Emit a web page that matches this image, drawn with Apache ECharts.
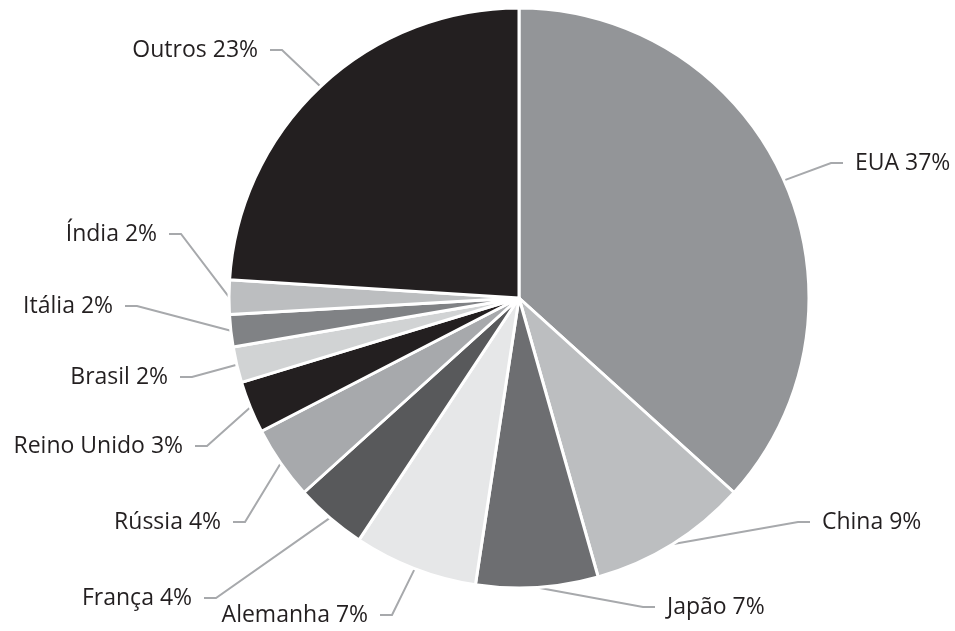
<!DOCTYPE html>
<html>
<head>
<meta charset="utf-8">
<script src="https://cdn.jsdelivr.net/npm/echarts@6/dist/echarts.min.js"></script>
<style>
  html, body { margin: 0; padding: 0; background: #fff; }
  #chart { width: 955px; height: 631px; }
</style>
</head>
<body>
<div id="chart"></div>
<script>
const countries = ['EUA', 'China', 'Japão', 'Alemanha', 'França', 'Rússia', 'Reino Unido', 'Brasil', 'Itália', 'Índia', 'Outros']
// printed percentages
const labels = [37, 9, 7, 7, 4, 4, 3, 2, 2, 2, 23]
// slice sizes
const shares = [36.7, 8.9, 6.8, 6.9, 4.0, 4.1, 2.9, 2.0, 1.8, 1.9, 24.0]
const colors = ['#939598', '#bcbec0', '#6d6e71', '#e6e7e8', '#58595b', '#a7a9ac', '#231f20', '#d1d3d4', '#808285', '#bcbec0', '#231f20']

// where each label sits (x, y, align)
const labelPos = [
  [843, 163, 'left'],
  [810, 522, 'left'],
  [655, 607, 'left'],
  [380, 615, 'right'],
  [204, 598, 'right'],
  [233, 522, 'right'],
  [195, 446, 'right'],
  [180, 377, 'right'],
  [125, 306, 'right'],
  [169, 234, 'right'],
  [270, 50, 'right']
]

const chart = echarts.init(document.getElementById('chart'))

chart.setOption({
  animation: false,
  color: colors,
  series: [
    {
      type: 'pie',
      center: [519, 298],
      radius: 290,
      startAngle: 90,
      clockwise: true,
      itemStyle: {
        borderColor: '#fff',
        borderWidth: 3
      },
      label: {
        show: true,
        // two spaces leave a small gap between text and guide line
        formatter: p => {
          const txt = p.name + ' ' + labels[p.dataIndex] + '%'
          return labelPos[p.dataIndex][2] === 'left' ? '  ' + txt : txt + '  '
        },
        fontFamily: 'Open Sans',
        fontSize: 23,
        color: '#231f20'
      },
      labelLine: {
        show: true,
        length: 20,
        length2: 12,
        lineStyle: { color: '#a7a9ac', width: 2 }
      },
      labelLayout: p => {
        const pos = labelPos[p.dataIndex]
        return { x: pos[0], y: pos[1], align: pos[2], verticalAlign: 'middle' }
      },
      data: countries.map((c, i) => ({ name: c, value: shares[i] }))
    }
  ]
})
</script>
</body>
</html>
